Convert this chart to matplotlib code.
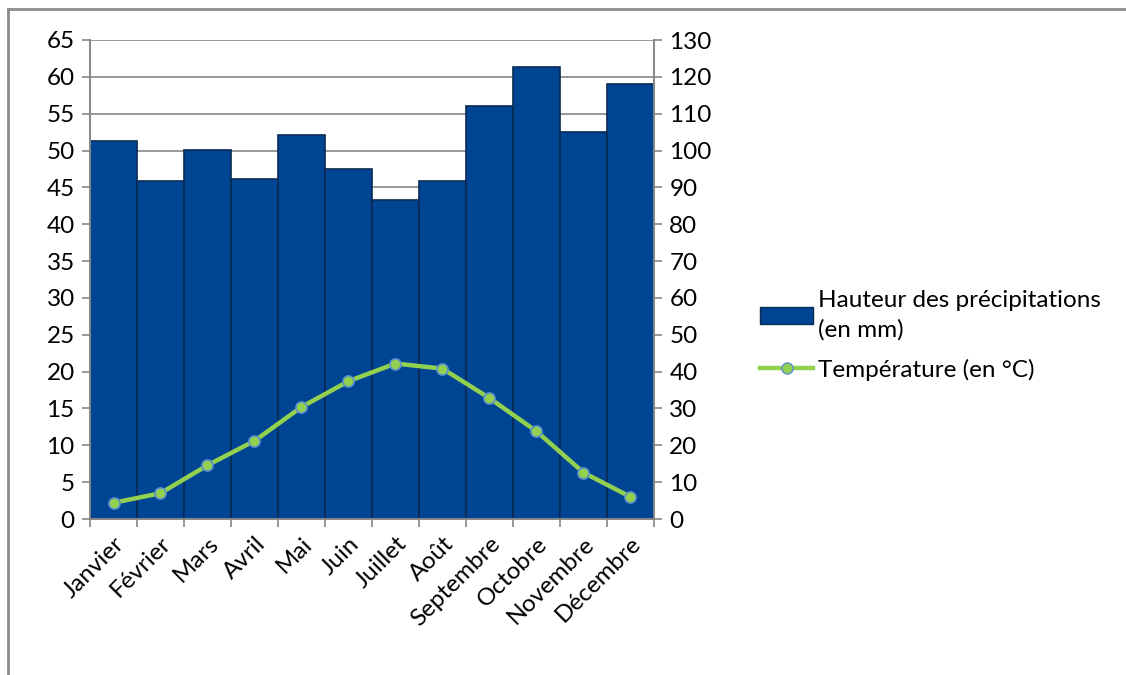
import matplotlib.pyplot as plt
from matplotlib.lines import Line2D
from matplotlib.patches import Patch
import numpy as np

plt.rcParams['font.family'] = ['Lato', 'DejaVu Sans']

mois = ['Janvier', 'Février', 'Mars', 'Avril', 'Mai', 'Juin', 'Juillet',
        'Août', 'Septembre', 'Octobre', 'Novembre', 'Décembre']
precipitations = [102.6, 91.6, 100.2, 92.4, 104.2, 95.0, 86.6, 91.8, 112.0, 122.6, 105.0, 118.0]
temperature = [2.2, 3.5, 7.3, 10.6, 15.2, 18.7, 21.1, 20.4, 16.4, 11.9, 6.3, 3.0]

grey = '#868686'
fs = 17.5

fig = plt.figure(figsize=(11.26, 6.75), dpi=100)
ax = fig.add_axes([90 / 1126, 1 - 519 / 675, (654 - 90) / 1126, (519 - 40) / 675])
ax2 = ax.twinx()

# temperature on left axis, precipitation bars on right axis
x = np.arange(len(mois))
ax2.bar(x, precipitations, width=1.0, align='edge', color='#004494',
        edgecolor='#0b2a55', linewidth=1.2, zorder=2)
ax.plot(x + 0.5, temperature, color='#92D050', lw=3.2, marker='o', ms=8,
        markerfacecolor='#92D050', markeredgecolor='#5b8fcf', markeredgewidth=1.2)

ax.set_zorder(ax2.get_zorder() + 1)
ax.patch.set_visible(False)

ax.set_xlim(0, 12)
ax.set_ylim(0, 65)
ax.set_yticks(range(0, 66, 5))
ax2.set_ylim(0, 130)
ax2.set_yticks(range(0, 131, 10))

# grid lines drawn behind the bars on ax2
for v in range(10, 131, 10):
    ax2.axhline(v, color=grey, lw=1.2, zorder=0)

ax.set_xticks(range(0, 13))
ax.set_xticklabels([])
ax.set_xticks(x + 0.5, minor=True)
ax.set_xticklabels(mois, minor=True, rotation=45, ha='right', va='top',
                   rotation_mode='anchor', fontsize=fs)
ax.tick_params(axis='x', which='minor', length=0, pad=10)
ax.tick_params(axis='x', which='major', length=6, color=grey, width=1.2)
ax.tick_params(axis='y', length=6, color=grey, width=1.2, labelsize=fs, pad=5)
ax2.tick_params(axis='y', length=6, color=grey, width=1.2, labelsize=fs, pad=5)

for a in (ax, ax2):
    a.spines['top'].set_visible(False)
    for s in ('left', 'right', 'bottom'):
        a.spines[s].set_color(grey)
        a.spines[s].set_linewidth(1.2)

handles = [Patch(facecolor='#004494', edgecolor='#0b2a55'),
           Line2D([], [], color='#92D050', lw=3.2, marker='o', ms=8,
                  markerfacecolor='#92D050', markeredgecolor='#5b8fcf')]
labels = ['Hauteur des précipitations\n(en mm)', 'Température (en °C)']
leg = fig.legend(handles, labels, loc='upper left', bbox_to_anchor=(738 / 1126, 1 - 268 / 675),
                 frameon=False, fontsize=fs, handlelength=2.2, handletextpad=0.2,
                 labelspacing=0.75)
for t in leg.get_texts():
    t.set_linespacing(1.45)

# outer chart border
fig.add_artist(Line2D([8 / 1126, 8 / 1126], [0, 1 - 9 / 675], color='#8c8c8c', lw=2,
                      transform=fig.transFigure))
fig.add_artist(Line2D([8 / 1126, 1], [1 - 9 / 675, 1 - 9 / 675], color='#8c8c8c', lw=2,
                      transform=fig.transFigure))

fig.savefig('out.png', dpi=100)
